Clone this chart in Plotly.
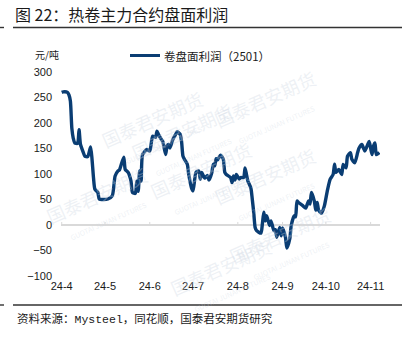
import plotly.graph_objects as go

# 卷盘面利润（2501）, 元/吨
dates = [
    "2024-04-01", "2024-04-02", "2024-04-05", "2024-04-06", "2024-04-07", "2024-04-08",
    "2024-04-09", "2024-04-10", "2024-04-12", "2024-04-13", "2024-04-14", "2024-04-16",
    "2024-04-17", "2024-04-19", "2024-04-21", "2024-04-22", "2024-04-23", "2024-04-24",
    "2024-04-26", "2024-04-27", "2024-04-30", "2024-05-03", "2024-05-06", "2024-05-08",
    "2024-05-10", "2024-05-11", "2024-05-14", "2024-05-15", "2024-05-17", "2024-05-19",
    "2024-05-20", "2024-05-22", "2024-05-23", "2024-05-24", "2024-05-25", "2024-05-26",
    "2024-05-27", "2024-05-30", "2024-06-01", "2024-06-03", "2024-06-05", "2024-06-06",
    "2024-06-07", "2024-06-09", "2024-06-10", "2024-06-12", "2024-06-13", "2024-06-14",
    "2024-06-15", "2024-06-17", "2024-06-19", "2024-06-20", "2024-06-22", "2024-06-23",
    "2024-06-24", "2024-06-25", "2024-06-27", "2024-06-28", "2024-06-30", "2024-07-01",
    "2024-07-03", "2024-07-05", "2024-07-06", "2024-07-07", "2024-07-09", "2024-07-11",
    "2024-07-12", "2024-07-14", "2024-07-15", "2024-07-16", "2024-07-17", "2024-07-18",
    "2024-07-20", "2024-07-21", "2024-07-22", "2024-07-23", "2024-07-24", "2024-07-27",
    "2024-07-28", "2024-07-29", "2024-07-30", "2024-07-31", "2024-08-02", "2024-08-03",
    "2024-08-05", "2024-08-06", "2024-08-07", "2024-08-08", "2024-08-10", "2024-08-11",
    "2024-08-12", "2024-08-13", "2024-08-14", "2024-08-17", "2024-08-18", "2024-08-19",
    "2024-08-20", "2024-08-21", "2024-08-23", "2024-08-24", "2024-08-26", "2024-08-27",
    "2024-08-28", "2024-08-30", "2024-08-31", "2024-09-01", "2024-09-03", "2024-09-04",
    "2024-09-06", "2024-09-07", "2024-09-09", "2024-09-10", "2024-09-11", "2024-09-12",
    "2024-09-15", "2024-09-17", "2024-09-19", "2024-09-20", "2024-09-21", "2024-09-23",
    "2024-09-24", "2024-09-25", "2024-09-26", "2024-09-28", "2024-09-30", "2024-10-02",
    "2024-10-04", "2024-10-06", "2024-10-07", "2024-10-08", "2024-10-10", "2024-10-12",
    "2024-10-13", "2024-10-15", "2024-10-16", "2024-10-18", "2024-10-19", "2024-10-21",
    "2024-10-23", "2024-10-24", "2024-10-26", "2024-10-27", "2024-10-28", "2024-10-30",
    "2024-10-31", "2024-11-01", "2024-11-02", "2024-11-03", "2024-11-04", "2024-11-05",
    "2024-11-07",
]
profit = [
    260, 261, 260, 255, 243, 190,
    170, 161, 160, 187, 158, 142,
    135, 134, 153, 129, 93, 70,
    64, 51, 50, 51, 57, 96,
    106, 108, 133, 109, 103, 86,
    64, 62, 86, 66, 106, 86,
    138, 148, 145, 174, 172, 184,
    178, 168, 164, 138, 155, 158,
    151, 168, 178, 183, 178, 164,
    135, 129, 119, 99, 72, 67,
    103, 106, 90, 103, 92, 97,
    88, 103, 119, 116, 130, 128,
    137, 134, 128, 103, 99, 93,
    83, 96, 88, 99, 90, 93,
    93, 112, 99, 86, 73, 51,
    25, -5, -11, -16, 2, 25,
    8, 18, -1, 8, -11, -9,
    -24, -5, -21, -6, -24, -45,
    -27, -1, 18, 16, 47, 44,
    38, 33, 47, 41, 64, 47,
    29, 44, 29, 23, 38, 67,
    90, 99, 119, 103, 109, 99,
    119, 112, 135, 142, 129, 122,
    142, 151, 158, 151, 145, 158,
    164, 151, 138, 155, 161, 138,
    142,
]

month_ticks = ["2024-04-01", "2024-05-01", "2024-06-01", "2024-07-01",
               "2024-08-01", "2024-09-01", "2024-10-01", "2024-11-01"]
y_ticks = [-100, -50, 0, 50, 100, 150, 200, 250, 300]

series_name = "卷盘面利润（2501）"
title_text = "图 22：热卷主力合约盘面利润"
unit_text = "元/吨"
source_text = ('资料来源：<span style="font-family:\'Liberation Mono\', monospace">Mysteel</span>'
               '，同花顺，国泰君安期货研究')

W, H = 409, 341
ML, MR, MT, MB = 61, 29, 72, 65
NAVY = "#0a3d73"
TEXT = "#1a1a1a"
CJK = "Noto Sans CJK SC"
LATIN = "Arial, Liberation Sans, sans-serif"


def px_x(px):
    return (px - ML) / (W - ML - MR)


def px_y(py):
    return (H - MB - py) / (H - MT - MB)


fig = go.Figure()
fig.add_trace(go.Scatter(
    x=dates, y=profit, mode="lines", name=series_name,
    line=dict(color=NAVY, width=3.4, shape="spline", smoothing=0.6),
    showlegend=False,
))

fig.update_layout(
    width=W, height=H,
    margin=dict(l=ML, r=MR, t=MT, b=MB),
    paper_bgcolor="white", plot_bgcolor="rgba(0,0,0,0)",
    showlegend=False,
    xaxis=dict(
        type="date", range=["2024-03-31 12:00", "2024-11-07 12:00"],
        tickvals=month_ticks, tickformat="%y-%-m",
        showgrid=False, showline=False, zeroline=False, ticks="",
        tickfont=dict(family=LATIN, size=11, color=TEXT),
        ticklabelstandoff=2,
    ),
    yaxis=dict(
        range=[-100, 300], tickvals=y_ticks,
        showgrid=False, showline=False, ticks="",
        zeroline=True, zerolinecolor="#d9d9d9", zerolinewidth=1.5,
        tickfont=dict(family=LATIN, size=11, color=TEXT),
        ticklabelstandoff=8,
    ),
)

shapes = []
# small month ticks standing on the zero line
for d in month_ticks:
    shapes.append(dict(type="line", xref="x", yref="y", x0=d, x1=d, y0=0, y1=6,
                       line=dict(color="#d9d9d9", width=1), layer="below"))
# header and footer rules
for py in (27.5, 305):
    shapes.append(dict(type="line", xref="paper", yref="paper",
                       x0=px_x(13), x1=px_x(402), y0=px_y(py), y1=px_y(py),
                       line=dict(color="#333333", width=1.4)))
    shapes.append(dict(type="line", xref="paper", yref="paper",
                       x0=px_x(0), x1=px_x(4), y0=px_y(py), y1=px_y(py),
                       line=dict(color="#333333", width=1.4)))
# legend key line
shapes.append(dict(type="line", xref="paper", yref="paper",
                   x0=px_x(130), x1=px_x(160), y0=px_y(55.5), y1=px_y(55.5),
                   line=dict(color=NAVY, width=3)))
fig.update_layout(shapes=shapes)

ann = []
# faint brand watermarks
wm_color = "rgba(205,214,226,0.35)"
for (cx, cy) in [(95, 82), (330, 62), (125, 140), (205, 225), (330, 185), (40, 250), (345, 290), (225, 322)]:
    ann.append(dict(xref="paper", yref="paper", x=px_x(cx), y=px_y(cy),
                    text="国泰君安期货<br><span style='font-size:7px'>GUOTAI JUNAN FUTURES</span>",
                    showarrow=False, textangle=-24,
                    font=dict(family=CJK, size=18, color=wm_color)))

ann.append(dict(xref="paper", yref="paper", x=px_x(13), y=px_y(14),
                xanchor="left", yanchor="middle", text=title_text, showarrow=False,
                font=dict(family=CJK, size=16, color=TEXT)))
ann.append(dict(xref="paper", yref="paper", x=px_x(33), y=px_y(54),
                xanchor="left", yanchor="middle", text=unit_text, showarrow=False,
                font=dict(family=CJK, size=10, color=TEXT)))
ann.append(dict(xref="paper", yref="paper", x=px_x(162), y=px_y(55.5),
                xanchor="left", yanchor="middle", text=series_name, showarrow=False,
                font=dict(family=CJK, size=11.5, color=TEXT)))
ann.append(dict(xref="paper", yref="paper", x=px_x(15), y=px_y(318),
                xanchor="left", yanchor="middle", text=source_text, showarrow=False,
                font=dict(family=CJK, size=11.5, color=TEXT)))
fig.update_layout(annotations=ann)

fig.write_html("out.html")
